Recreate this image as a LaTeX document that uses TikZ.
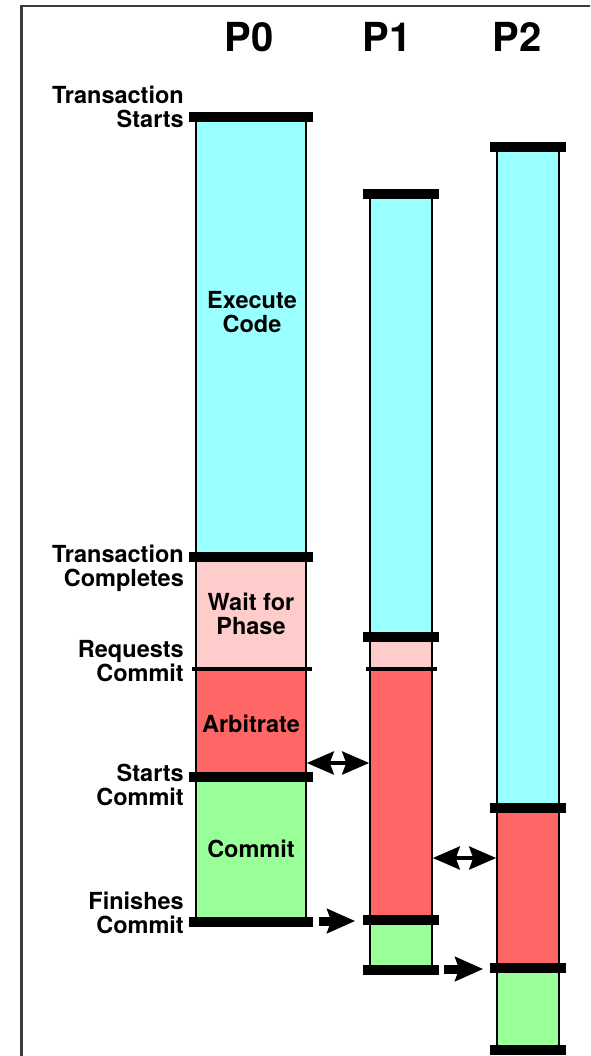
\documentclass[tikz,border=0pt]{standalone}
\usepackage{fontspec}
\setmainfont{TeX Gyre Heros}
\usepackage{xcolor}
\usepackage{tikz}
\usetikzlibrary{arrows.meta}
\definecolor{mycyan}{RGB}{153,255,255}
\definecolor{mypink}{RGB}{255,204,204}
\definecolor{myred}{RGB}{255,102,102}
\definecolor{mygreen}{RGB}{153,255,153}
\definecolor{myframe}{RGB}{60,60,60}
\newcommand{\lblfont}{\fontsize{23.5}{24}\selectfont\bfseries}
\newcommand{\procfont}{\fontsize{40}{40}\selectfont\bfseries}
\tikzset{
  seg/.style={rectangle, draw=black, line width=1.6pt, inner sep=0pt,
    anchor=north, font=\lblfont, align=center},
  execseg/.style={seg, fill=mycyan},
  waitseg/.style={seg, fill=mypink},
  arbseg/.style={seg, fill=myred},
  commitseg/.style={seg, fill=mygreen},
  capbar/.style={line width=10pt, black},
  thinbar/.style={line width=4pt, black},
  evlabel/.style={anchor=east, align=right, font=\lblfont, inner sep=0pt},
  proclabel/.style={font=\procfont, inner sep=0pt},
  twoway/.style={{Stealth[length=27pt,width=23pt,inset=4pt]}-{Stealth[length=27pt,width=23pt,inset=4pt]},
    line width=4pt, black},
  oneway/.style={-{Stealth[length=28pt,width=24pt,inset=4pt]}, line width=9pt, black}
}

\begin{document}
\begin{tikzpicture}[x=1pt, y=-1pt]
  \useasboundingbox (0,0) rectangle (590,1056);
  \clip (0,0) rectangle (590,1056);

  % Frame
  \draw[myframe, line width=2.5pt] (21.3,1100) -- (21.3,6.2) -- (650,6.2);

  % Processor headings
  \node[proclabel] (h0) at (249,37) {P0};
  \node[proclabel] (h1) at (387,37) {P1};
  \node[proclabel] (h2) at (517,37) {P2};

  % P0 phases
  \node[execseg, minimum width=110pt, minimum height=440pt] (p0exec) at (251,117) {};
  \node[font=\lblfont, align=center] (p0exectxt) at (252,312) {Execute\\Code};
  \node[waitseg, minimum width=110pt, minimum height=112pt] (p0wait) at (251,557) {Wait for\\Phase};
  \node[arbseg, minimum width=110pt, minimum height=108pt] (p0arb) at (251,669) {Arbitrate};
  \node[commitseg, minimum width=110pt, minimum height=143pt] (p0commit) at (251,777) {Commit};

  % P1 phases
  \node[execseg, minimum width=62pt, minimum height=443pt] (p1exec) at (401,194) {};
  \node[waitseg, minimum width=62pt, minimum height=32pt] (p1wait) at (401,637) {};
  \node[arbseg, minimum width=62pt, minimum height=251pt] (p1arb) at (401,669) {};
  \node[commitseg, minimum width=62pt, minimum height=48pt] (p1commit) at (401,920) {};

  % P2 phases
  \node[execseg, minimum width=62pt, minimum height=661pt] (p2exec) at (528,147) {};
  \node[arbseg, minimum width=62pt, minimum height=160pt] (p2arb) at (528,808) {};
  \node[commitseg, minimum width=62pt, minimum height=80pt] (p2commit) at (528,968) {};

  % Phase boundaries
  \draw[capbar] ([xshift=-6pt]p0exec.north west) -- ([xshift=6pt]p0exec.north east);
  \draw[capbar] ([xshift=-6pt]p0wait.north west) -- ([xshift=6pt]p0wait.north east);
  \draw[thinbar] ([xshift=-3pt]p0arb.north west) -- ([xshift=5pt]p0arb.north east);
  \draw[capbar] ([xshift=-6pt]p0commit.north west) -- ([xshift=6pt]p0commit.north east);
  \draw[capbar] ([xshift=-6pt]p0commit.south west) -- ([xshift=6pt]p0commit.south east);

  \draw[capbar] ([xshift=-6pt]p1exec.north west) -- ([xshift=6pt]p1exec.north east);
  \draw[capbar] ([xshift=-6pt]p1wait.north west) -- ([xshift=6pt]p1wait.north east);
  \draw[thinbar] ([xshift=-3pt]p1arb.north west) -- ([xshift=4pt]p1arb.north east);
  \draw[capbar] ([xshift=-6pt]p1commit.north west) -- ([xshift=6pt]p1commit.north east);
  \draw[capbar] ([xshift=-6pt]p1commit.south west) -- ([xshift=6pt]p1commit.south east);

  \draw[capbar] ([xshift=-6pt]p2exec.north west) -- ([xshift=6pt]p2exec.north east);
  \draw[capbar] ([xshift=-6pt]p2arb.north west) -- ([xshift=6pt]p2arb.north east);
  \draw[capbar] ([xshift=-6pt]p2commit.north west) -- ([xshift=6pt]p2commit.north east);
  \draw[capbar] ([xshift=-6pt]p2commit.south west) -- ([xshift=6pt]p2commit.south east);

  % Event labels
  \node[evlabel] (evstart) at (184,107) {Transaction\\Starts};
  \node[evlabel] (evdone) at (184,568) {Transaction\\Completes};
  \node[evlabel] (evreq) at (184,661) {Requests\\Commit};
  \node[evlabel] (evcstart) at (184,785) {Starts\\Commit};
  \node[evlabel] (evcend) at (184,913) {Finishes\\Commit};

  % Arbitration and hand-off arrows
  \coordinate (row1) at (0,763);
  \coordinate (row2) at (0,858);
  \coordinate (row3) at (0,921);
  \coordinate (row4) at (0,969);
  \draw[twoway] (p0arb.east |- row1) -- (p1arb.west |- row1);
  \draw[twoway] (p1arb.east |- row2) -- (p2arb.west |- row2);
  \draw[oneway] ([xshift=12pt]p0commit.east |- row3) -- ([xshift=-14pt]p1commit.west |- row3);
  \draw[oneway] ([xshift=11pt]p1commit.east |- row4) -- ([xshift=-13pt]p2commit.west |- row4);
\end{tikzpicture}
\end{document}
